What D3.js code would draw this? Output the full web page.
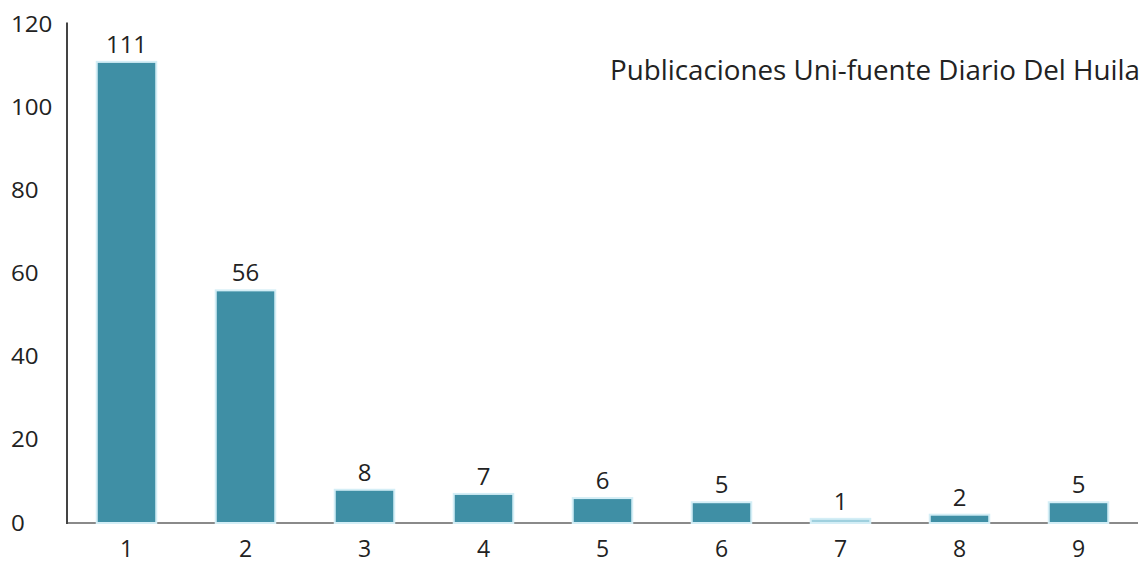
<!DOCTYPE html>
<html><head><meta charset="utf-8">
<script src="https://cdn.jsdelivr.net/npm/d3@7"></script>
<style>body{margin:0;background:#fff}svg{display:block}text{font-family:"Open Sans","Noto Sans",sans-serif;fill:#222}</style>
</head><body><svg id="c" width="1145" height="565"></svg>
<script>
const categories = ["1","2","3","4","5","6","7","8","9"];
const values = [111,56,8,7,6,5,1,2,5];
const yTicks = [0,20,40,60,80,100,120];
const title = "Publicaciones Uni-fuente Diario Del Huila";

const svg = d3.select("#c");
const x = d3.scaleBand().domain(categories).range([67,1138]).paddingInner(0.5).paddingOuter(0.25);
const y = d3.scaleLinear().domain([0,120]).range([523,24.5]);

// baseline
svg.append("line").attr("x1",67).attr("x2",1138).attr("y1",y(0)).attr("y2",y(0)).attr("stroke","#8a8a8a").attr("stroke-width",2);
// vertical axis line
svg.append("line").attr("x1",67).attr("x2",67).attr("y1",y(0)+1).attr("y2",y(120)-2).attr("stroke","#444").attr("stroke-width",2);

// y tick labels (left aligned)
svg.selectAll("text.yt").data(yTicks).enter().append("text").attr("class","yt")
  .attr("transform",d=>`translate(11,${y(d)}) scale(1.15,1)`).attr("dy","0.36em").attr("font-size",21).text(d=>d);

// bars
svg.selectAll("rect.bar").data(values).enter().append("rect").attr("class","bar")
  .attr("x",(d,i)=>x(categories[i])).attr("width",x.bandwidth())
  .attr("y",d=>y(d)).attr("height",d=>y(0)-y(d))
  .attr("fill",(d,i)=>i===6?"#9fd0de":"#3f8fa5").attr("stroke","#d4eef6").attr("stroke-width",2);

// value labels
svg.selectAll("text.vl").data(values).enter().append("text").attr("class","vl")
  .attr("x",(d,i)=>x(categories[i])+x.bandwidth()/2).attr("y",d=>y(d)-9)
  .attr("text-anchor","middle").attr("font-size",24).text(d=>d);

// category labels
svg.selectAll("text.cl").data(categories).enter().append("text").attr("class","cl")
  .attr("x",d=>x(d)+x.bandwidth()/2).attr("y",557)
  .attr("text-anchor","middle").attr("font-size",23).text(d=>d);

// title
svg.append("text").attr("x",1140).attr("y",80).attr("text-anchor","end").attr("font-size",27)
  .attr("textLength",530).attr("lengthAdjust","spacingAndGlyphs").text(title);
</script></body></html>
